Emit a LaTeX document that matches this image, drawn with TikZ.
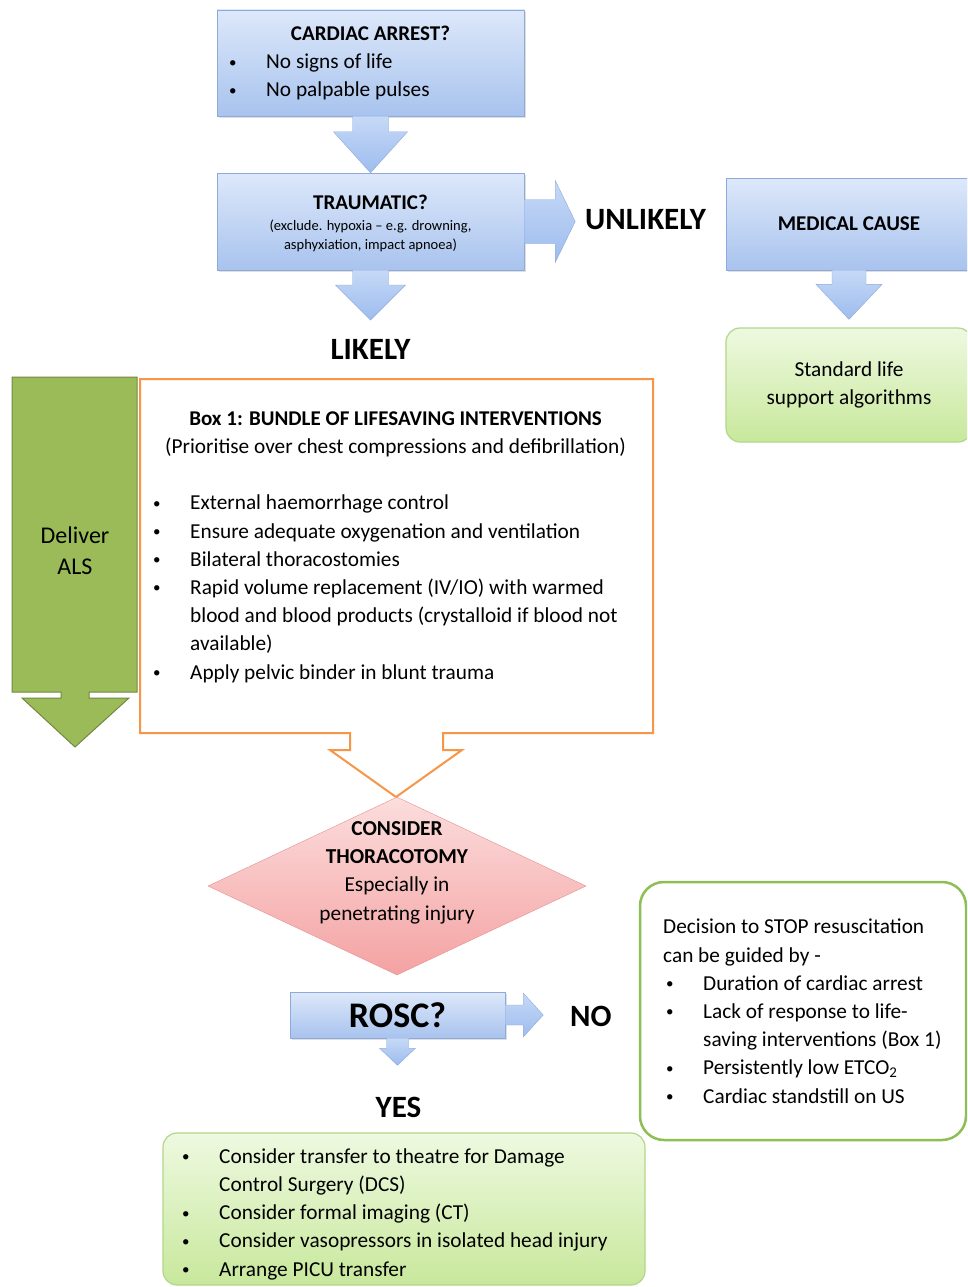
\documentclass[tikz,border=0pt]{standalone}
\usepackage{fontspec}
\setmainfont{Carlito}
\usetikzlibrary{shapes.geometric,calc,shadows}

\definecolor{bluetop}{HTML}{DDE8FA}
\definecolor{bluebot}{HTML}{A8C3EE}
\definecolor{blueline}{HTML}{8EA9DA}
\definecolor{arrtop}{HTML}{C6D9F7}
\definecolor{arrbot}{HTML}{9DBCEE}
\definecolor{limetop}{HTML}{EEF9E0}
\definecolor{limebot}{HTML}{C8E89C}
\definecolor{limeline}{HTML}{B2D78A}
\definecolor{alsgreen}{HTML}{9BBB59}
\definecolor{alsline}{HTML}{71893F}
\definecolor{boxorange}{HTML}{F79646}
\definecolor{pinktop}{HTML}{FCDDDD}
\definecolor{pinkbot}{HTML}{F4A2A2}
\definecolor{pinkline}{HTML}{E59090}
\definecolor{stopline}{HTML}{8DBF55}

\newcommand{\fsz}[2]{\fontsize{#1}{#2}\selectfont}
\newcommand{\bul}{\makebox[37pt][l]{\raisebox{1.5pt}{\fsz{15}{15}\textbullet}}}
% block arrows: from, to, shaft half width, head half width, head length
\newcommand{\blkdown}[5]{\draw[blkarrow] ($(#1)+(-#3,0)$) -- ($(#1)+(#3,0)$) -- ($(#2)+(#3,-#5)$) -- ($(#2)+(#4,-#5)$) -- (#2) -- ($(#2)+(-#4,-#5)$) -- ($(#2)+(-#3,-#5)$) -- cycle;}
\newcommand{\blkright}[5]{\draw[blkarrow] ($(#1)+(0,-#3)$) -- ($(#2)+(-#5,-#3)$) -- ($(#2)+(-#5,-#4)$) -- (#2) -- ($(#2)+(-#5,#4)$) -- ($(#2)+(-#5,#3)$) -- ($(#1)+(0,#3)$) -- cycle;}

\begin{document}
\begin{tikzpicture}[x=1pt,y=-1pt,
    bluebox/.style={draw=blueline, top color=bluetop, bottom color=bluebot,
      drop shadow={opacity=.25,shadow xshift=1.5pt,shadow yshift=-2pt}},
    blkarrow/.style={draw=blueline, top color=arrtop, bottom color=arrbot},
    limebox/.style={draw=limeline, line width=1.2pt, rounded corners=14pt, top color=limetop, bottom color=limebot},
    txt/.style={inner sep=0pt, font=\fsz{21.3}{28.2}},
    hd/.style={inner sep=0pt, font=\fsz{21}{28}\bfseries},
    big/.style={inner sep=0pt, font=\fsz{31}{31}\bfseries},
    sm/.style={inner sep=0pt, font=\fsz{14.5}{19}}]
  \clip (0,0) rectangle (967,1287);
  \fill[white] (0,0) rectangle (967,1287);

  \coordinate (likelytip) at (370.5,320);
  \node[bluebox, minimum width=307, minimum height=106] (arrest) at (370.5,63) {};
  \node[bluebox, minimum width=307, minimum height=97] (trauma) at (370.5,221.5) {};
  \coordinate (unltip) at ($(trauma.east)+(51,0)$);
  \blkdown{arrest.south}{trauma.north}{18}{37}{41}
  \blkdown{trauma.south}{likelytip}{18}{35}{35}
  \blkright{trauma.east}{unltip}{22}{41}{20}

  \node[bluebox, minimum width=246, minimum height=92, font=\fsz{21}{28}\bfseries] (medical) at (849,224) {MEDICAL CAUSE};
  \node[limebox, minimum width=246, minimum height=114, align=center, font=\fsz{21.3}{28}] (standard) at (849,385) {Standard life\\support algorithms};
  \coordinate (stdtip) at ($(standard.north)+(0,-8)$);
  \blkdown{medical.south}{stdtip}{17}{33}{35}

  % multi-line nodes sit on the baseline of their last line
  \node[hd, anchor=base] (arresttitle) at (370.5,41) {CARDIAC ARREST?};
  \node[txt, anchor=base west, align=left] (arrestlist) at (229,97) {\bul No signs of life\\ \bul No palpable pulses};
  \node[hd, anchor=base] (traumatitle) at (370.5,209) {TRAUMATIC?};
  \node[sm, anchor=base, align=center] (traumanote) at (370.5,249) {(exclude. hypoxia -- e.g. drowning,\\asphyxiation, impact apnoea)};
  \node[big, anchor=base west] (unlikely) at (585,229) {UNLIKELY};
  \node[big, anchor=base] (likely) at (370.5,359) {LIKELY};

  \draw[alsline, fill=alsgreen, line width=1pt] (12,377) -- (137,377) -- (137,692) -- (89,692) -- (89,698) -- (129,698)
    -- (75,747) -- (22,698) -- (61,698) -- (61,692) -- (12,692) -- cycle;
  \node[inner sep=0pt, font=\fsz{24}{31}, align=center, anchor=base] (als) at (75,574) {Deliver\\ALS};

  \draw[boxorange, line width=2pt, fill=white] (140,379) -- (653,379) -- (653,733) -- (443,733) -- (443,750) -- (462,750)
    -- (396,797) -- (330,750) -- (350,750) -- (350,733) -- (140,733) -- cycle;
  \node[hd, anchor=base] (box1title) at (395.5,425) {Box 1: BUNDLE OF LIFESAVING INTERVENTIONS};
  \node[txt, anchor=base] (box1sub) at (395.5,453) {(Prioritise over chest compressions and defibrillation)};
  \node[txt, anchor=base west, align=left] (box1list) at (153,679) {\bul External haemorrhage control\\
    \bul Ensure adequate oxygenation and ventilation\\
    \bul Bilateral thoracostomies\\
    \bul Rapid volume replacement (IV/IO) with warmed\\
    \hspace*{37pt}blood and blood products (crystalloid if blood not\\
    \hspace*{37pt}available)\\
    \bul Apply pelvic binder in blunt trauma};

  \node[diamond, draw=pinkline, top color=pinktop, bottom color=pinkbot, minimum width=378, minimum height=178, inner sep=0pt] (thora) at (397,886) {};
  \node[txt, anchor=base, align=center] (thoratxt) at (397,920) {\textbf{CONSIDER}\\\textbf{THORACOTOMY}\\Especially in\\penetrating injury};

  \node[bluebox, minimum width=215, minimum height=46, font=\fsz{36}{36}\bfseries] (rosc) at (397.5,1015) {ROSC?};
  \coordinate (notip) at ($(rosc.east)+(38,0)$);
  \coordinate (yestip) at ($(rosc.south)+(0,27)$);
  \blkright{rosc.east}{notip}{10}{22}{20}
  \blkdown{rosc.south}{yestip}{11}{18}{17}
  \node[big, anchor=base west] (no) at (570,1026) {NO};
  \node[big, anchor=base] (yes) at (398.5,1117) {YES};

  \node[draw=stopline, line width=2.5pt, rounded corners=24pt, fill=white, minimum width=326, minimum height=258] (stop) at (803,1011) {};
  \node[txt, anchor=base west, align=left] (stoptxt) at (663,1103) {Decision to STOP resuscitation\\
    can be guided by -\\
    \hspace*{3pt}\bul Duration of cardiac arrest\\
    \hspace*{3pt}\bul Lack of response to life-\\
    \hspace*{40pt}saving interventions (Box 1)\\
    \hspace*{3pt}\bul Persistently low ETCO\textsubscript{2}\\
    \hspace*{3pt}\bul Cardiac standstill on US};

  \node[limebox, minimum width=482, minimum height=152] (after) at (404,1209) {};
  \node[txt, anchor=base west, align=left] (afterlist) at (182,1276) {\bul Consider transfer to theatre for Damage\\
    \hspace*{37pt}Control Surgery (DCS)\\
    \bul Consider formal imaging (CT)\\
    \bul Consider vasopressors in isolated head injury\\
    \bul Arrange PICU transfer};
\end{tikzpicture}
\end{document}
